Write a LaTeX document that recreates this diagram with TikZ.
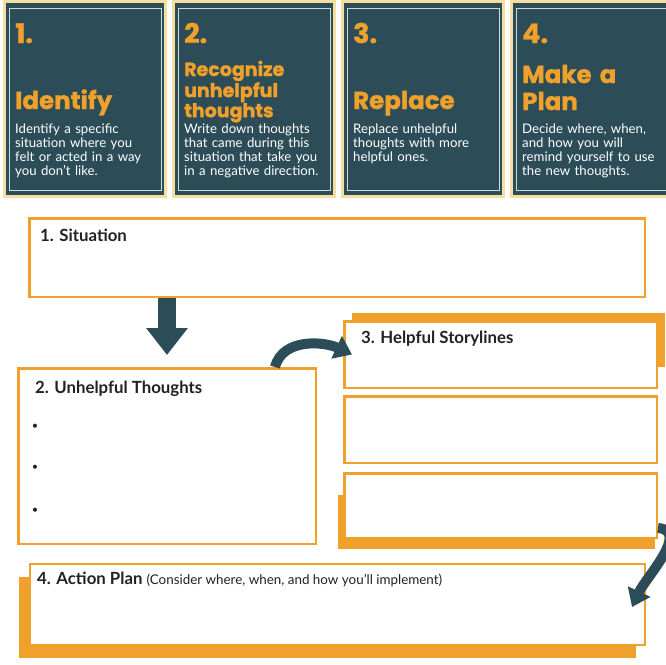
\documentclass[tikz,border=0pt]{standalone}
\usepackage{fontspec}
\setmainfont{Lato}
\newfontfamily\headfont{Poppins}[BoldFeatures={FakeBold=1.2}]
\usetikzlibrary{arrows.meta, positioning, calc, backgrounds}

\definecolor{slate}{HTML}{2C4D57}
\definecolor{amber}{HTML}{F0A12B}
\definecolor{sand}{HTML}{F4DFA0}
\definecolor{mist}{HTML}{C9DCDC}
\definecolor{ink}{HTML}{222222}

\begin{document}
\begin{tikzpicture}[
    x=1pt, y=1pt,
    card/.style={rectangle, fill=slate, draw=sand, line width=3pt, minimum width=161pt, minimum height=195pt, anchor=north west, inner sep=0pt},
    cardframe/.style={draw=mist, line width=0.8pt},
    cardnum/.style={font=\headfont\bfseries\fontsize{27}{27}\selectfont, text=amber, anchor=base west, inner sep=0pt},
    cardtitle/.style={font=\headfont\bfseries\fontsize{24.5}{27}\selectfont, text=amber, anchor=base west, inner sep=0pt, text width=150pt, align=left},
    cardtext/.style={font=\fontsize{13.2}{14}\selectfont, text=white, anchor=base west, inner sep=0pt, text width=152pt, align=left},
    box/.style={rectangle, draw=amber, fill=white, line width=2.5pt, anchor=north west, inner sep=0pt},
    boxhead/.style={font=\bfseries\fontsize{16.8}{16}\selectfont, text=ink, anchor=base west, inner sep=0pt},
    bulletdot/.style={font=\fontsize{11}{11}\selectfont, text=ink, inner sep=0pt},
    offsetfill/.style={fill=amber, draw=none},
    blockarrow/.style={draw=slate, line width=18pt, -{Triangle[width=40pt, length=27pt]}},
    curvearrow/.style={draw=slate, line width=10pt, -{Triangle[width=24pt, length=17pt]}}
]
\useasboundingbox (0,0) rectangle (666,-664);

% ============ STEP CARDS ============
\node[card] (c1) at (3,0) {};
\node[card, right=5pt of c1] (c2) {};
\node[card, right=5pt of c2] (c3) {};
\node[card, right=5pt of c3] (c4) {};

\foreach \c in {c1,c2,c3,c4}
    \draw[cardframe] ([shift={(6,-8)}]\c.north west) rectangle ([shift={(-6,8)}]\c.south east);

\node[cardnum] (num1) at ([shift={(12,-43)}]c1.north west) {1.};
\node[cardnum] (num2) at ([shift={(12,-43)}]c2.north west) {2.};
\node[cardnum] (num3) at ([shift={(12,-43)}]c3.north west) {3.};
\node[cardnum] (num4) at ([shift={(12,-43)}]c4.north west) {4.};

\node[cardtitle] (title1) at ([shift={(12,-109)}]c1.north west) {Identify};
\node[cardtitle, font=\headfont\bfseries\fontsize{19}{17.5}\selectfont] (title2) at ([shift={(12,-76)}]c2.north west) {Recognize\\unhelpful\\thoughts};
\node[cardtitle] (title3) at ([shift={(12,-109)}]c3.north west) {Replace};
\node[cardtitle] (title4) at ([shift={(12,-83)}]c4.north west) {Make a\\Plan};

\node[cardtext] (text1) at ([shift={(12,-133)}]c1.north west) {Identify a specific\\situation where you\\felt or acted in a way\\you don’t like.};
\node[cardtext] (text2) at ([shift={(12,-133)}]c2.north west) {Write down thoughts\\that came during this\\situation that take you\\in a negative direction.};
\node[cardtext] (text3) at ([shift={(12,-133)}]c3.north west) {Replace unhelpful\\thoughts with more\\helpful ones.};
\node[cardtext] (text4) at ([shift={(12,-133)}]c4.north west) {Decide where, when,\\and how you will\\remind yourself to use\\the new thoughts.};

% ============ WORKSHEET BOXES ============
\node[box, minimum width=615.5pt, minimum height=78.5pt] (sit) at (28,-217) {};
\node[box, minimum width=297.5pt, minimum height=175.5pt] (think) at (17,-367) {};
\node[box, minimum width=312.5pt, minimum height=66.5pt] (storyA) at (343,-320) {};
\node[box, minimum width=312.5pt, minimum height=66.5pt, below=6pt of storyA] (storyB) {};
\node[box, minimum width=312.5pt, minimum height=64.5pt, below=8pt of storyB] (storyC) {};
\node[box, line width=1.6pt, minimum width=615.4pt, minimum height=81.4pt] (plan) at (29,-563) {};

\node[boxhead] (sithead) at ([shift={(12,-24)}]sit.north west) {1. Situation};
\node[boxhead] (thinkhead) at ([shift={(18,-26)}]think.north west) {2. Unhelpful Thoughts};
\node[boxhead] (storyhead) at ([shift={(18,-23)}]storyA.north west) {3. Helpful Storylines};
\node[boxhead] (planhead) at ([shift={(8,-21)}]plan.north west) {4. Action Plan {\mdseries\fontsize{13.4}{12}\selectfont (Consider where, when, and how you’ll implement)}};

\node[bulletdot] (b1) at ([shift={(18,-60)}]think.north west) {•};
\node[bulletdot] (b2) at ([shift={(18,-101)}]think.north west) {•};
\node[bulletdot] (b3) at ([shift={(18,-144)}]think.north west) {•};

% ============ ARROWS ============
\draw[blockarrow] (sit.south -| think.north) -- ([yshift=12pt]think.north);
\draw[curvearrow] ($(think.north west)!0.86!(think.north east)$) to[out=75, in=155] ([xshift=9pt]storyA.west);
\draw[curvearrow] ([yshift=11pt]storyC.south east) to[out=-5, in=65] ([shift={(-14,-44)}]plan.north east);

% ============ OFFSET BARS ============
\begin{scope}[on background layer]
    \fill[offsetfill] ([shift={(9,7)}]storyA.north west) rectangle ([shift={(7,-47)}]storyA.north east);
    \fill[offsetfill] ([shift={(-5,-10)}]storyC.south west) rectangle ([shift={(-3,-23)}]storyC.north east);
    \fill[offsetfill] ([shift={(-10,-12)}]plan.south west) rectangle ([shift={(-10,-14)}]plan.north east);
\end{scope}

\end{tikzpicture}
\end{document}
